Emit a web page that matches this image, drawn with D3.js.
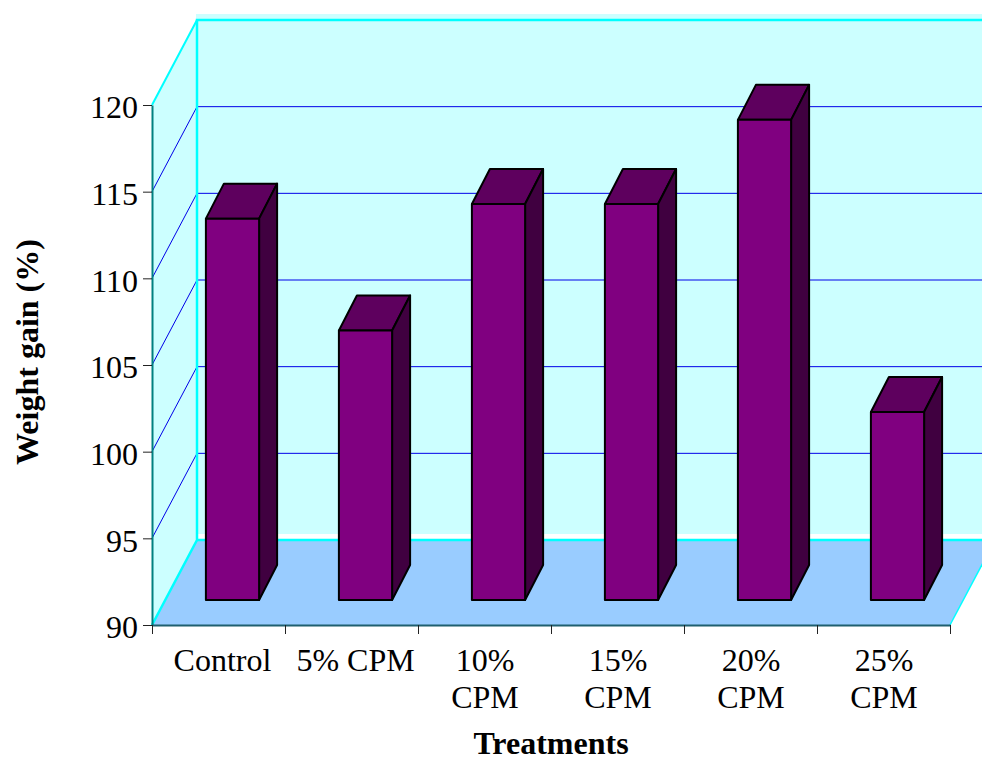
<!DOCTYPE html>
<html>
<head>
<meta charset="utf-8">
<script src="https://cdn.jsdelivr.net/npm/d3@7"></script>
<style>
  html, body { margin: 0; padding: 0; background: #fff; overflow: hidden; }
  text { font-family: "Liberation Serif", serif; fill: #000; }
</style>
</head>
<body>
<div id="chart"></div>
<script>
// Values
const categories = ["Control", "5% CPM", "10% CPM", "15% CPM", "20% CPM", "25% CPM"];
const weightGain = [112, 105.55, 112.85, 112.85, 117.7, 100.85];
const categoryLines = [["Control"], ["5% CPM"], ["10%", "CPM"], ["15%", "CPM"], ["20%", "CPM"], ["25%", "CPM"]];
const yTicks = [90, 95, 100, 105, 110, 115, 120];

const width = 982, height = 760;
const margins = {top: 105, right: 32, bottom: 135, left: 152};

// depth of the fake 3D box, and where the bars sit inside it
const depth = {x: 45, y: -85};
const barInset = {x: 14, y: -25};
const barDepth = {x: 18, y: -35};

const svg = d3.select("#chart")
    .append("svg")
    .attr("width", width)
    .attr("height", height)
    .attr("viewBox", [0, 0, width, height]);

const xScale = d3.scaleBand()
    .domain(categories)
    .range([margins.left, width - margins.right])
    .paddingInner(0.6)
    .paddingOuter(0.3);

const yScale = d3.scaleLinear()
    .domain([90, 120])
    .range([height - margins.bottom, margins.top]);

const x0 = margins.left, x1 = width - margins.right;
const yBase = yScale(90), yTop = yScale(120);

/* Walls and floor */
const poly = pts => pts.map(p => p.join(",")).join(" ");

svg.append("rect")
    .attr("x", x0 + depth.x - 1)
    .attr("y", yTop + depth.y - 6)
    .attr("width", x1 - x0)
    .attr("height", yBase - yTop)
    .attr("fill", "#ccffff");

svg.append("polygon")
    .attr("points", poly([[x0, yTop], [x0 + depth.x, yTop + depth.y], [x0 + depth.x, yBase + depth.y], [x0, yBase]]))
    .attr("fill", "#ccffff");

svg.append("polygon")
    .attr("points", poly([[x0, yBase], [x1, yBase], [x1 + depth.x, yBase + depth.y], [x0 + depth.x, yBase + depth.y]]))
    .attr("fill", "#99ccff");

// gridlines on the back wall and side wall
const gridTicks = yTicks.filter(d => d > 90 && d < 120);
svg.append("g").selectAll("path")
    .data(gridTicks)
    .join("path")
    .attr("d", d => `M${x0},${yScale(d)}L${x0 + depth.x},${yScale(d) + depth.y}H${x1 + depth.x}`)
    .attr("fill", "none")
    .attr("stroke", "#0000e8")
    .attr("stroke-width", 1);

// cyan outline of the box
svg.append("path")
    .attr("d", `M${x0},${yBase}L${x0 + depth.x},${yBase + depth.y}V${yTop + depth.y}H${x1 + depth.x}`)
    .attr("fill", "none")
    .attr("stroke", "#00ffff")
    .attr("stroke-width", 2.5);
svg.append("path")
    .attr("d", `M${x0 + depth.x},${yBase + depth.y}H${x1 + depth.x}`)
    .attr("stroke", "#00ffff")
    .attr("stroke-width", 2.5);
svg.append("path")
    .attr("d", `M${x0},${yTop}L${x0 + depth.x},${yTop + depth.y}`)
    .attr("stroke", "#00ffff")
    .attr("stroke-width", 2);
svg.append("path")
    .attr("d", `M${x1},${yBase}L${x1 + depth.x},${yBase + depth.y}`)
    .attr("stroke", "#00ffff")
    .attr("stroke-width", 1.5);

/* Bars: front, top and side faces */
const bars = svg.append("g")
    .attr("stroke", "#000")
    .attr("stroke-width", 2)
    .attr("stroke-linejoin", "round")
    .selectAll("g")
    .data(categories.map((c, i) => ({category: c, value: weightGain[i]})))
    .join("g");

const bw = xScale.bandwidth();
const left = d => xScale(d.category) + barInset.x;
const top_ = d => yScale(d.value) + barInset.y;
const bottom = yBase + barInset.y;

bars.append("polygon")
    .attr("fill", "#5e005e")
    .attr("points", d => poly([
        [left(d), top_(d)],
        [left(d) + barDepth.x, top_(d) + barDepth.y],
        [left(d) + bw + barDepth.x, top_(d) + barDepth.y],
        [left(d) + bw, top_(d)]]));

bars.append("polygon")
    .attr("fill", "#400040")
    .attr("points", d => poly([
        [left(d) + bw, top_(d)],
        [left(d) + bw + barDepth.x, top_(d) + barDepth.y],
        [left(d) + bw + barDepth.x, bottom + barDepth.y],
        [left(d) + bw, bottom]]));

bars.append("rect")
    .attr("fill", "#800080")
    .attr("x", left)
    .attr("y", top_)
    .attr("width", bw)
    .attr("height", d => bottom - top_(d));

/* Axes */
const yAxis = d3.axisLeft(yScale)
    .tickValues(yTicks)
    .tickSize(9)
    .tickSizeOuter(0)
    .tickPadding(5);

const yGroup = svg.append("g")
    .attr("transform", `translate(${x0},0)`)
    .call(yAxis);
yGroup.select(".domain").attr("stroke", "#008080").attr("stroke-width", 2);
yGroup.selectAll(".tick line").attr("stroke", "#222");
yGroup.selectAll("text")
    .style("font-size", "32px")
    .attr("font-family", null)
    .attr("dy", "0.4em");

// x axis has ticks between the bands, so it gets its own step scale
const xEdges = d3.scaleLinear().domain([0, categories.length]).range([x0, x1]);
const xAxis = d3.axisBottom(xEdges)
    .tickValues(d3.range(categories.length + 1))
    .tickSize(9)
    .tickSizeOuter(0)
    .tickFormat("");

const xGroup = svg.append("g")
    .attr("transform", `translate(0,${yBase})`)
    .call(xAxis);
xGroup.select(".domain").attr("stroke", "#1f5f6f").attr("stroke-width", 2);
xGroup.selectAll(".tick line").attr("stroke", "#222");

// category labels, wrapped like the original
const labels = svg.append("g")
    .selectAll("text")
    .data(categoryLines)
    .join("text")
    .attr("text-anchor", "middle")
    .style("font-size", "32px")
    .attr("transform", (d, i) => `translate(${xEdges(i + 0.5) + (d.length == 1 ? 4 : 0.5)},671)`);

labels.selectAll("tspan")
    .data(d => d)
    .join("tspan")
    .attr("x", 0)
    .attr("dy", (d, i) => i ? 37 : 0)
    .text(d => d);

/* Axis titles */
svg.append("text")
    .attr("x", 551)
    .attr("y", 754)
    .attr("text-anchor", "middle")
    .style("font-size", "32px")
    .style("font-weight", "bold")
    .text("Treatments");

svg.append("text")
    .attr("transform", "translate(38,352) rotate(-90)")
    .attr("text-anchor", "middle")
    .style("font-size", "32px")
    .style("font-weight", "bold")
    .text("Weight gain (%)");
</script>
</body>
</html>
